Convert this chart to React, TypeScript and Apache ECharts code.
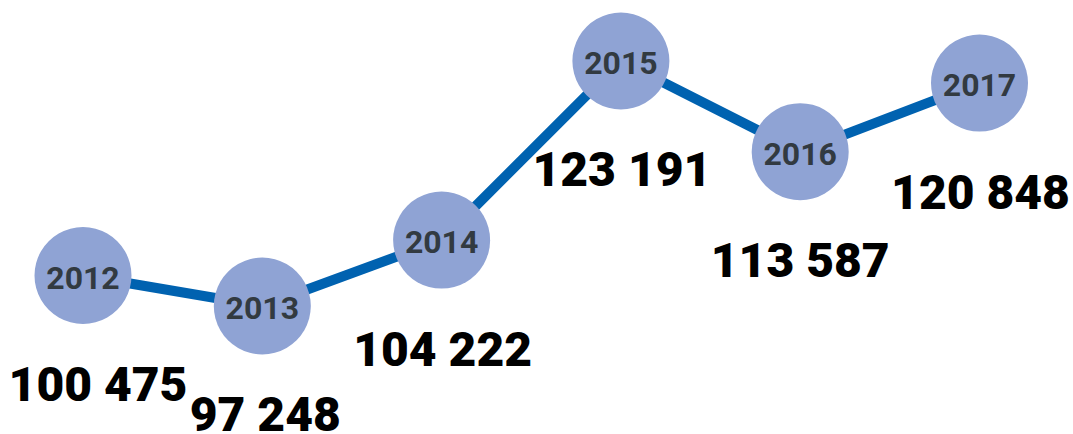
import React, { useEffect, useRef } from "react";
import * as echarts from "echarts";

const years = ["2012", "2013", "2014", "2015", "2016", "2017"];
const values = [100475, 97248, 104222, 123191, 113587, 120848];
const valueLabelDx = [15, 3, 1, 1, 0, 1];

const fmt = (v: number) => String(v).replace(/\B(?=(\d{3})+(?!\d))/g, " ");

export default function App() {
  const ref = useRef<HTMLDivElement>(null);
  useEffect(() => {
    document.body.style.margin = "0";
    const chart = echarts.init(ref.current!, null, { renderer: "svg" });
    const valueLabel = {
      show: true,
      position: "inside",
      fontFamily: "Roboto",
      fontWeight: 900,
      fontSize: 48,
      lineHeight: 38,
      color: "#000000",
      opacity: 1,
      textBorderWidth: 0,
    };
    chart.setOption({
      animation: false,
      backgroundColor: "#ffffff",
      grid: { left: 83, right: 93.5, top: 43.9, bottom: 154, containLabel: false },
      xAxis: { type: "category", data: years, boundaryGap: false, show: false },
      yAxis: { type: "value", min: 100000, max: 125000, show: false, splitLine: { show: false } },
      series: [
        {
          type: "scatter",
          clip: false,
          data: values.map((v, i) => ({
            value: v,
            label: { ...valueLabel, offset: [valueLabelDx[i], 109] },
          })),
          symbolSize: 1,
          itemStyle: { color: "rgba(255,255,255,0)", opacity: 1 },
          z: 1,
          label: {
            ...valueLabel,
            formatter: (p: any) => fmt(values[p.dataIndex]),
          },
          emphasis: { disabled: true },
        },
        {
          type: "line",
          clip: false,
          data: values,
          symbol: "circle",
          symbolSize: 97,
          showSymbol: true,
          z: 2,
          itemStyle: { color: "#8fa3d4", borderWidth: 0, opacity: 1 },
          lineStyle: { color: "#0062b0", width: 10 },
          label: {
            show: true,
            position: "inside",
            offset: [0, 2],
            formatter: (p: any) => years[p.dataIndex],
            fontFamily: "Roboto",
            fontWeight: "bold",
            fontSize: 32,
            color: "#323a41",
            opacity: 1,
            textBorderWidth: 0,
          },
          emphasis: { disabled: true },
        },
      ],
    });
    return () => chart.dispose();
  }, []);
  return <div ref={ref} style={{ width: 1073, height: 434 }} />;
}
